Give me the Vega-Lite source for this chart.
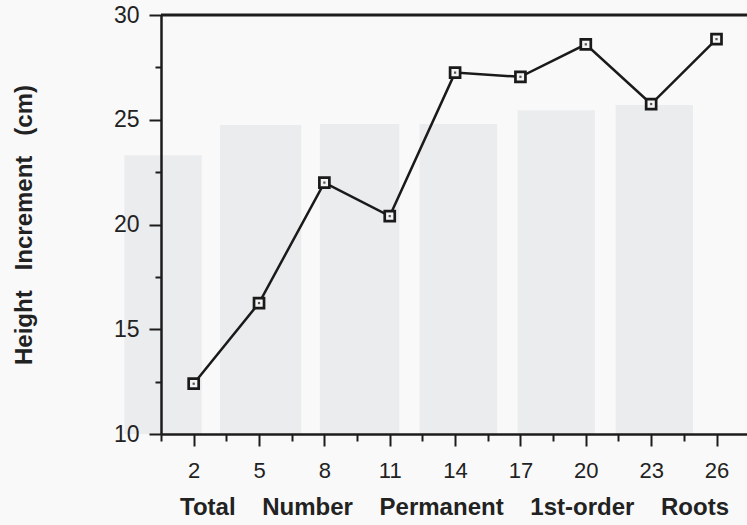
{
  "$schema": "https://vega.github.io/schema/vega-lite/v6.json",
  "width": 586,
  "height": 419,
  "autosize": {"type": "none"},
  "padding": {"left": 161, "top": 15, "right": 0, "bottom": 91},
  "background": "#f9f9f9",
  "config": {
    "view": {"stroke": null},
    "font": "Liberation Sans"
  },
  "datasets": {
    "growth": [
      {"roots": 2, "increment": 12.4},
      {"roots": 5, "increment": 16.25},
      {"roots": 8, "increment": 22.0},
      {"roots": 11, "increment": 20.4},
      {"roots": 14, "increment": 27.25},
      {"roots": 17, "increment": 27.05},
      {"roots": 20, "increment": 28.6},
      {"roots": 23, "increment": 25.75},
      {"roots": 26, "increment": 28.85}
    ],
    "shade": [
      {"start": -1.18, "end": 2.37, "top": 23.3},
      {"start": 3.21, "end": 6.94, "top": 24.75},
      {"start": 7.79, "end": 11.44, "top": 24.8},
      {"start": 12.37, "end": 15.93, "top": 24.8},
      {"start": 16.87, "end": 20.42, "top": 25.45},
      {"start": 21.37, "end": 24.92, "top": 25.7}
    ],
    "frame": [
      {"level": 30}
    ]
  },
  "layer": [
    {
      "data": {"name": "shade"},
      "mark": {"type": "bar", "color": "#ebecee"},
      "encoding": {
        "x": {"field": "start", "type": "quantitative"},
        "x2": {"field": "end"},
        "y": {"field": "top", "type": "quantitative"},
        "y2": {"datum": 10}
      }
    },
    {
      "data": {"name": "frame"},
      "mark": {"type": "rule", "strokeWidth": 3, "color": "#1c1c1c"},
      "encoding": {
        "y": {"field": "level", "type": "quantitative"}
      }
    },
    {
      "data": {"name": "growth"},
      "mark": {"type": "line", "color": "#1a1a1a", "strokeWidth": 2.5},
      "encoding": {
        "x": {
          "field": "roots",
          "type": "quantitative",
          "scale": {"domain": [0.5, 27.4], "nice": false, "zero": false},
          "axis": {
            "title": "Total \u00a0\u00a0\u00a0Number \u00a0\u00a0\u00a0Permanent \u00a0\u00a0\u00a01st-order \u00a0\u00a0\u00a0Roots",
            "values": [0.5, 2, 3.5, 5, 6.5, 8, 9.5, 11, 12.5, 14, 15.5, 17, 18.5, 20, 21.5, 23, 24.5, 26],
            "tickCount": 40,
            "format": "d",
            "labelExpr": "datum.value % 1 === 0 ? datum.label : ''",
            "labelOverlap": false,
            "labelFlush": false,
            "tickSize": {"condition": {"test": "datum.value % 1 !== 0", "value": 7}, "value": 12},
            "grid": false,
            "zindex": 1,
            "domainColor": "#1c1c1c",
            "domainWidth": 2.5,
            "tickColor": "#1c1c1c",
            "tickWidth": 2,
            "labelFontSize": 22,
            "labelColor": "#222222",
            "labelPadding": 14,
            "titleFontSize": 24,
            "titleFontWeight": "bold",
            "titleColor": "#222222",
            "titlePadding": 14
          }
        },
        "y": {
          "field": "increment",
          "type": "quantitative",
          "scale": {"domain": [10, 30], "nice": false, "zero": false},
          "axis": {
            "title": "Height \u00a0\u00a0Increment \u00a0\u00a0(cm)",
            "values": [10, 12.5, 15, 17.5, 20, 22.5, 25, 27.5, 30],
            "tickCount": 40,
            "format": "d",
            "labelExpr": "datum.value % 5 === 0 ? datum.label : ''",
            "labelOverlap": false,
            "tickSize": {"condition": {"test": "datum.value % 5 === 0", "value": 12}, "value": 6},
            "grid": false,
            "zindex": 1,
            "domainColor": "#1c1c1c",
            "domainWidth": 2.5,
            "tickColor": "#1c1c1c",
            "tickWidth": 2,
            "labelFontSize": 23,
            "labelColor": "#222222",
            "labelPadding": 10,
            "titleFontSize": 24,
            "titleFontWeight": "bold",
            "titleColor": "#222222",
            "titlePadding": 77
          }
        }
      }
    },
    {
      "data": {"name": "growth"},
      "mark": {"type": "point", "shape": "square", "size": 100, "filled": false, "fill": "#f4f4f4", "fillOpacity": 1, "stroke": "#1a1a1a", "strokeWidth": 2.7, "opacity": 1},
      "encoding": {
        "x": {"field": "roots", "type": "quantitative"},
        "y": {"field": "increment", "type": "quantitative"}
      }
    },
    {
      "data": {"name": "growth"},
      "mark": {"type": "point", "shape": "square", "size": 5, "filled": true, "color": "#555555", "opacity": 1},
      "encoding": {
        "x": {"field": "roots", "type": "quantitative"},
        "y": {"field": "increment", "type": "quantitative"}
      }
    }
  ]
}
